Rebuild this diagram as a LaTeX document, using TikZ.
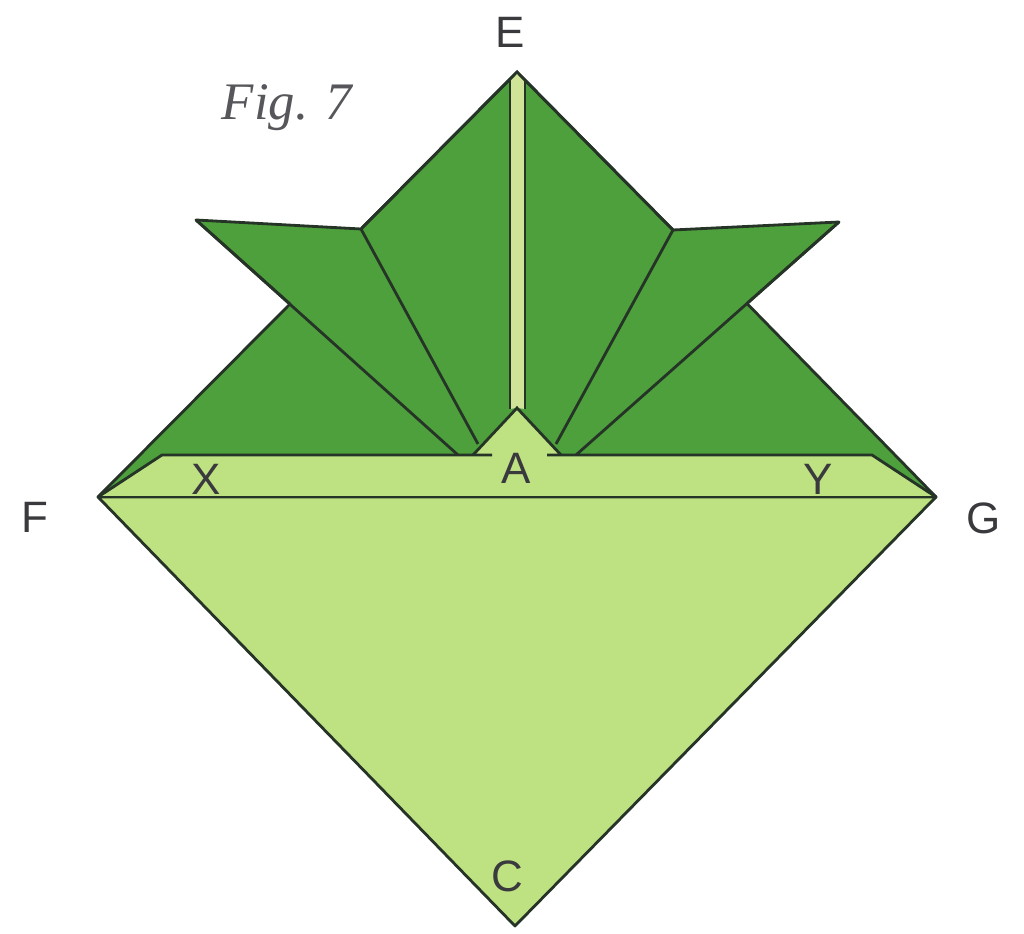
\documentclass[tikz,border=0pt]{standalone}
\usepackage{xcolor}
\usepackage{fontspec}
\setmainfont{Liberation Sans}
\newfontfamily\figfont{Liberation Serif}
\definecolor{darkleaf}{RGB}{78,160,60}
\definecolor{lightleaf}{RGB}{190,226,130}
\definecolor{stripleaf}{RGB}{208,228,152}
\definecolor{foldline}{RGB}{38,52,40}
\definecolor{inkgray}{RGB}{58,58,62}

\begin{document}
\begin{tikzpicture}[
            x=0.01cm,y=-0.01cm,
            fold/.style={draw=foldline,line width=0.8pt,line join=round},
            crease/.style={foldline,line width=0.8pt},
            upperface/.style={fold,fill=darkleaf},
            lowerface/.style={fold,fill=lightleaf},
            pointlabel/.style={font=\fontsize{12.5}{14}\selectfont,text=inkgray,inner sep=0pt},
            figlabel/.style={font=\figfont\itshape\fontsize{15}{18}\selectfont,text=inkgray!85!white,inner sep=0pt}
        ]

            % Page
            \useasboundingbox (0,0) rectangle (1024,934);

            % Outline points
            \coordinate (E) at (517,72);
            \coordinate (F) at (98,497);
            \coordinate (G) at (936,497);
            \coordinate (C) at (515,926);
            \coordinate (SL) at (361,229);
            \coordinate (SR) at (673,230);
            \coordinate (TL) at (196,220);
            \coordinate (TR) at (839,222);
            \coordinate (NL) at (290,304);
            \coordinate (NR) at (747,303.5);

            % Inner points
            \coordinate (BL) at (162,455);
            \coordinate (BR) at (872,455);
            \coordinate (AT) at (517,408);
            \coordinate (AL) at (473,455);
            \coordinate (AR) at (561,455);
            \coordinate (CL) at (478,444);
            \coordinate (CR) at (556,444);
            \coordinate (DL) at (458,455);
            \coordinate (DR) at (576,455);
            \coordinate (HL) at (492,455);
            \coordinate (HR) at (547,455);

            % Centre strip ends
            \coordinate (PL) at (510,79);
            \coordinate (PR) at (525,80);
            \coordinate (QL) at (510,409);
            \coordinate (QR) at (525,409);

            % Upper layer
            \path[upperface] (F) -- (NL) -- (TL) -- (SL) -- (E) -- (SR) -- (TR) -- (NR) -- (G) -- cycle;
            \draw[crease] (TL) -- (DL);
            \draw[crease] (TR) -- (DR);
            \draw[crease] (SL) -- (CL);
            \draw[crease] (SR) -- (CR);

            % Centre strip
            \fill[stripleaf] (PL) -- (E) -- (PR) -- (QR) -- (AT) -- (QL) -- cycle;
            \draw[crease] (PL) -- (QL);
            \draw[crease] (PR) -- (QR);
            \draw[crease] (SL) -- (E) -- (SR);

            % Lower layer
            \path[lowerface] (F) -- (G) -- (C) -- cycle;
            \path[fill=lightleaf] (F) -- (BL) -- (AL) -- (AT) -- (AR) -- (BR) -- (G) -- cycle;
            \draw[crease] (F) -- (BL) -- (HL);
            \draw[crease] (G) -- (BR) -- (HR);
            \draw[crease] (AL) -- (AT) -- (AR);
            \draw[crease] (F) -- (G);

            % Labels
            \node[pointlabel] (LE) at (510,32) {E};
            \node[pointlabel] (LF) at (35,517) {F};
            \node[pointlabel] (LG) at (984,518) {G};
            \node[pointlabel] (LC) at (507,876) {C};
            \node[pointlabel] (LA) at (516,468) {A};
            \node[pointlabel] (LX) at (206,479) {X};
            \node[pointlabel] (LY) at (818,479) {Y};
            \node[figlabel] (FIG) at (287,108) {Fig. 7};
        \end{tikzpicture}
\end{document}
